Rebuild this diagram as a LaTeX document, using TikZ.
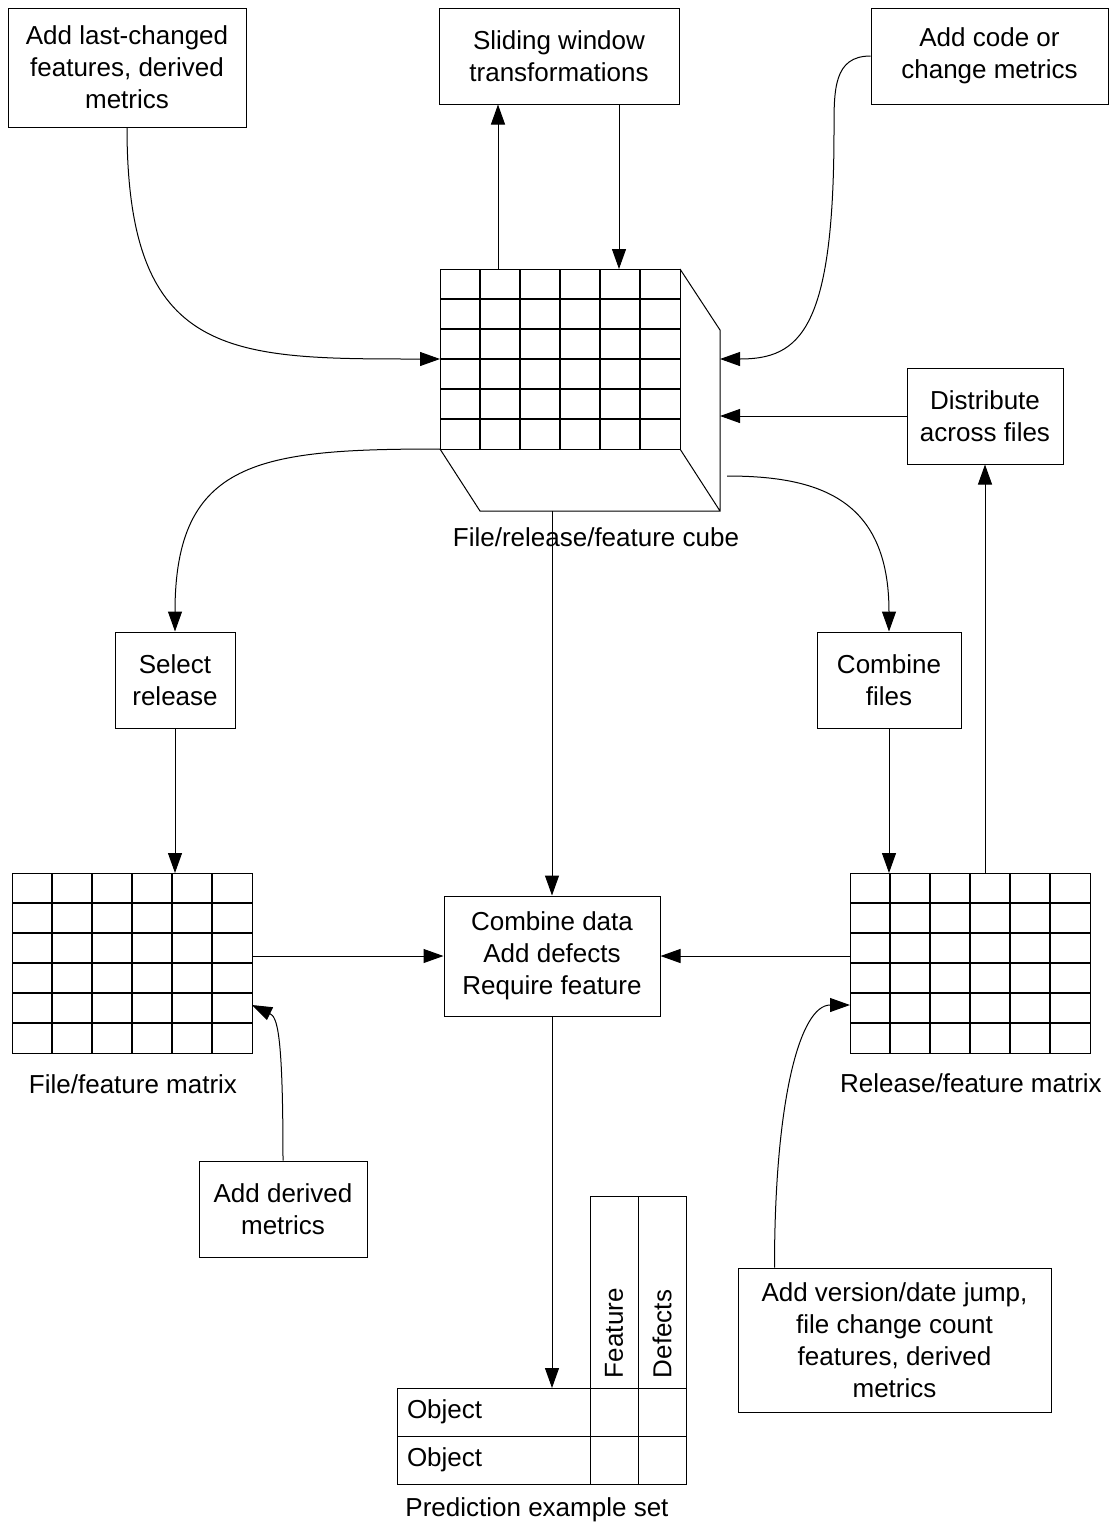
\documentclass[tikz,border=0pt]{standalone}
\usepackage{fontspec}
\setmainfont{Liberation Sans}
\usetikzlibrary{arrows.meta,calc}

\begin{document}
\begin{tikzpicture}[
        x=1pt, y=-1pt,
        >={Triangle[length=20pt,width=14pt]},
        font=\fontsize{26}{32}\selectfont,
        box/.style={draw, line width=1pt, align=center, inner sep=0pt},
        cell/.style={draw, line width=1pt, inner sep=0pt, outer sep=0pt},
        gridrule/.style={line width=2pt},
        arr/.style={->, line width=1pt},
        ]
        \useasboundingbox (0,0) rectangle (1115,1527);

        % Process boxes
        \node[box, minimum width=238pt, minimum height=119pt] (last) at (127,67.5) {Add last-changed\\features, derived\\metrics};
        \node[box, minimum width=240pt, minimum height=96pt] (slide) at (559,56) {Sliding window\\transformations};
        \node[box, minimum width=237pt, minimum height=96pt] (code) at (989.5,56) {Add code or\\change metrics};
        \node[box, minimum width=156pt, minimum height=96pt] (dist) at (985,416) {Distribute\\across files};
        \node[box, minimum width=120pt, minimum height=96pt] (sel) at (175,680) {Select\\release};
        \node[box, minimum width=144pt, minimum height=96pt] (cmbf) at (889,680) {Combine\\files};
        \node[box, minimum width=216pt, minimum height=120pt] (comb) at (552,956) {Combine data\\Add defects\\Require feature};
        \node[box, minimum width=168pt, minimum height=96pt] (der) at (283,1209) {Add derived\\metrics};
        \node[box, minimum width=313pt, minimum height=144pt] (ver) at (894.5,1340) {Add version/date jump,\\file change count\\features, derived\\metrics};

        % Cube and matrices
        \node[cell, minimum width=240pt, minimum height=180pt] (cube) at (560,359) {};
        \node[cell, minimum width=240pt, minimum height=180pt] (fm) at (132,963) {};
        \node[cell, minimum width=240pt, minimum height=180pt] (rm) at (970,963) {};
        \foreach \m in {cube,fm,rm}{
            \foreach \i in {1,...,5}{
                \draw[gridrule] ($(\m.north west)!\i/6!(\m.north east)$) -- ($(\m.south west)!\i/6!(\m.south east)$);
                \draw[gridrule] ($(\m.north west)!\i/6!(\m.south west)$) -- ($(\m.north east)!\i/6!(\m.south east)$);
            }
        }
        \draw[line width=1pt] (cube.north east) -- ++(40,61) -- ++(0,181) -- ++(-240,0) -- (cube.south west)
            (cube.south east) -- ++(40,62);

        % Captions
        \node (cubecap) at (596,537) {File/release/feature cube};
        \node (fmcap) at (133,1084) {File/feature matrix};
        \node (rmcap) at (971,1083) {Release/feature matrix};
        \node (predcap) at (537,1510) {Prediction example set};

        % Prediction example set
        \node[cell, anchor=north west, minimum width=193pt, minimum height=48pt, text width=173pt, inner xsep=10pt, align=left] (ob1) at (397,1388) {Object};
        \node[cell, anchor=north west, minimum width=193pt, minimum height=48pt, text width=173pt, inner xsep=10pt, align=left] (ob2) at (397,1436) {Object};
        \node[cell, anchor=north west, minimum size=48pt] (c11) at (590,1388) {};
        \node[cell, anchor=north west, minimum size=48pt] (c12) at (638,1388) {};
        \node[cell, anchor=north west, minimum size=48pt] (c21) at (590,1436) {};
        \node[cell, anchor=north west, minimum size=48pt] (c22) at (638,1436) {};
        \node[cell, rotate=90, minimum width=192pt, minimum height=48pt, text width=172pt, inner xsep=10pt, align=left] (hd1) at (614,1292) {Feature};
        \node[cell, rotate=90, minimum width=192pt, minimum height=48pt, text width=172pt, inner xsep=10pt, align=left] (hd2) at (662,1292) {Defects};

        % Connectors
        \coordinate (up) at (498,0);
        \coordinate (dn) at (619,0);
        \coordinate (rf1) at (720,359);
        \coordinate (rf2) at (720,416);
        \coordinate (rf3) at (727,476);
        \coordinate (cubebot) at (552,511);
        \draw[arr] (last.south) .. controls +(0,232) and +(-210,0) .. (cube.west);
        \draw[arr] (cube.north -| up) -- (slide.south -| up);
        \draw[arr] (slide.south -| dn) -- (cube.north -| dn);
        \draw[arr] (code.west) .. controls +(-37,0) and +(0,-40) .. (834,130) .. controls +(0,200) and +(80,0) .. (rf1);
        \draw[arr] (dist.west) -- (rf2);
        \draw[arr] (rm.north -| dist) -- (dist.south);
        \draw[arr] (cube.south west) .. controls +(-180,0) and +(0,-172) .. (sel.north);
        \draw[arr] (rf3) .. controls +(93,0) and +(0,-132) .. (cmbf.north);
        \draw[arr] (cubebot) -- (comb.north);
        \draw[arr] (sel.south) -- (sel.south |- fm.north);
        \draw[arr] (cmbf.south) -- (cmbf.south |- rm.north);
        \draw[arr] (fm.east |- comb.west) -- (comb.west);
        \draw[arr] (rm.west |- comb.east) -- (comb.east);
        \draw[arr] (der.north) .. controls +(0,-130) and +(25,12) .. ([yshift=-42pt]fm.east);
        \draw[arr] ([xshift=37pt]ver.north west) .. controls +(0,-168) and +(-50,0) .. ([yshift=-42pt]rm.west);
        \draw[arr] (comb.south) -- (comb.south |- ob1.north);
\end{tikzpicture}
\end{document}
